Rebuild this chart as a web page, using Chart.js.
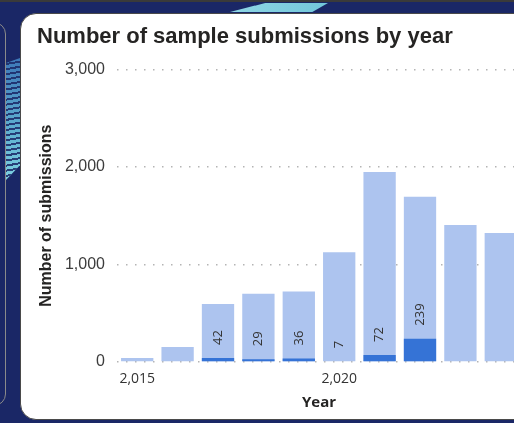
<!DOCTYPE html>
<html>
<head>
<meta charset="utf-8">
<script src="https://cdn.jsdelivr.net/npm/chart.js@4.4.1/dist/chart.umd.min.js"></script>
<style>
  html, body { margin: 0; padding: 0; }
  body {
    width: 514px; height: 423px; overflow: hidden; position: relative;
    background: #1a2766;
  }
  .topline { position: absolute; left: 0; top: 0; width: 514px; height: 2px; background: #3a3a3a; }
  .topflash {
    position: absolute; left: 230px; top: 3px; width: 98px; height: 9px;
    background: linear-gradient(90deg, #8fd6e4, #72c7da);
    clip-path: polygon(36% 0, 100% 0, 84% 100%, 0 100%);
  }
  .leftpanel {
    position: absolute; left: -30px; top: 22px; width: 34px; height: 382px;
    border: 1px solid #8a8a8a; border-radius: 12px; background: #1a2766;
  }
  .stripes {
    position: absolute; left: 6px; top: 58px; width: 14px; height: 122px;
    background:
      repeating-linear-gradient(170deg, rgba(26,39,102,0.85) 0 2px, rgba(26,39,102,0) 2px 5px),
      linear-gradient(180deg, #3d78b8 0%, #5fb0d0 60%, #7dd0e0 100%);
    clip-path: polygon(0 4%, 100% 0, 100% 88%, 0 100%);
  }
  .card {
    position: absolute; left: 20px; top: 13px; width: 520px; height: 405px;
    background: #fff; border: 1px solid #4a4a4a; border-radius: 16px;
  }
  #chart { position: absolute; left: 20px; top: 13px; }
</style>
</head>
<body>
<div class="topline"></div>
<div class="topflash"></div>
<div class="leftpanel"></div>
<div class="stripes"></div>
<div class="card"></div>
<canvas id="chart" width="501" height="407"></canvas>
<script>
// values
var years = [2015, 2016, 2017, 2018, 2019, 2020, 2021, 2022, 2023, 2024];
var totalSubmissions = [40, 155, 595, 700, 722, 1124, 1948, 1694, 1405, 1323];
var labelledSubmissions = [null, null, 42, 29, 36, 7, 72, 239, null, null];
var yTicks = [0, 1000, 2000, 3000];
var shownYears = [2015, 2020];

// rotated labels just above the dark segment
var barLabels = {
  id: "barLabels",
  afterDatasetsDraw: function (chart) {
    var ctx = chart.ctx;
    var meta = chart.getDatasetMeta(0);
    ctx.save();
    ctx.font = "13px 'Open Sans'";
    ctx.fillStyle = "#333333";
    ctx.textAlign = "left";
    ctx.textBaseline = "middle";
    meta.data.forEach(function (bar, i) {
      var v = labelledSubmissions[i];
      if (v === null) return;
      ctx.save();
      ctx.translate(bar.x, bar.y - 13);
      ctx.rotate(-Math.PI / 2);
      ctx.fillText(String(v), 0, 0);
      ctx.restore();
    });
    ctx.restore();
  }
};

var ctx = document.getElementById("chart").getContext("2d");
var myChart = new Chart(ctx, {
  type: "bar",
  data: {
    labels: years,
    datasets: [
      {
        label: "Labelled submissions",
        data: labelledSubmissions,
        backgroundColor: "#3573d6",
        grouped: false,
        barPercentage: 0.8,
        categoryPercentage: 1,
      },
      {
        label: "Submissions",
        data: totalSubmissions,
        backgroundColor: "#adc4ef",
        grouped: false,
        barPercentage: 0.8,
        categoryPercentage: 1,
      },
    ],
  },
  options: {
    responsive: false,
    devicePixelRatio: 1,
    animation: false,
    layout: { padding: { left: 17, right: 0, top: 0, bottom: 8 } },
    plugins: {
      legend: { display: false },
      tooltip: { enabled: false },
      title: {
        display: true,
        text: "Number of sample submissions by year",
        align: "start",
        color: "#252423",
        font: { family: "'Liberation Sans'", size: 22, weight: "bold" },
        padding: { top: 11, bottom: 19 },
      },
    },
    scales: {
      x: {
        afterFit: function (scale) {
          scale.height = 50;
        },
        grid: { display: false, drawTicks: false },
        border: { display: false },
        ticks: {
          color: "#333333",
          font: { family: "'Open Sans'", size: 14 },
          padding: 9,
          maxRotation: 0,
          autoSkip: false,
          callback: function (value, index) {
            var y = years[index];
            return shownYears.indexOf(y) >= 0 ? y.toLocaleString("en-US") : "";
          },
        },
        title: {
          display: true,
          text: "Year",
          color: "#252423",
          font: { family: "'Open Sans'", size: 15, weight: "bold" },
          padding: { top: 3, bottom: 0 },
        },
      },
      y: {
        min: 0,
        max: 3000,
        afterBuildTicks: function (scale) {
          scale.ticks = yTicks.map(function (v) { return { value: v }; });
        },
        afterFit: function (scale) {
          scale.width = 80;
        },
        grid: {
          color: "#b4b4b4",
          lineWidth: 1.5,
          drawTicks: false,
        },
        border: { display: false, dash: [1.5, 7.5] },
        ticks: {
          color: "#3c3c3c",
          font: { family: "'Liberation Sans'", size: 16 },
          padding: 12,
          callback: function (value) {
            return value.toLocaleString("en-US");
          },
        },
        title: {
          display: true,
          text: "Number of submissions",
          color: "#252423",
          font: { family: "'Liberation Sans'", size: 16, weight: "bold" },
          padding: { top: 0, bottom: 0 },
        },
      },
    },
  },
  plugins: [barLabels],
});
</script>
</body>
</html>
